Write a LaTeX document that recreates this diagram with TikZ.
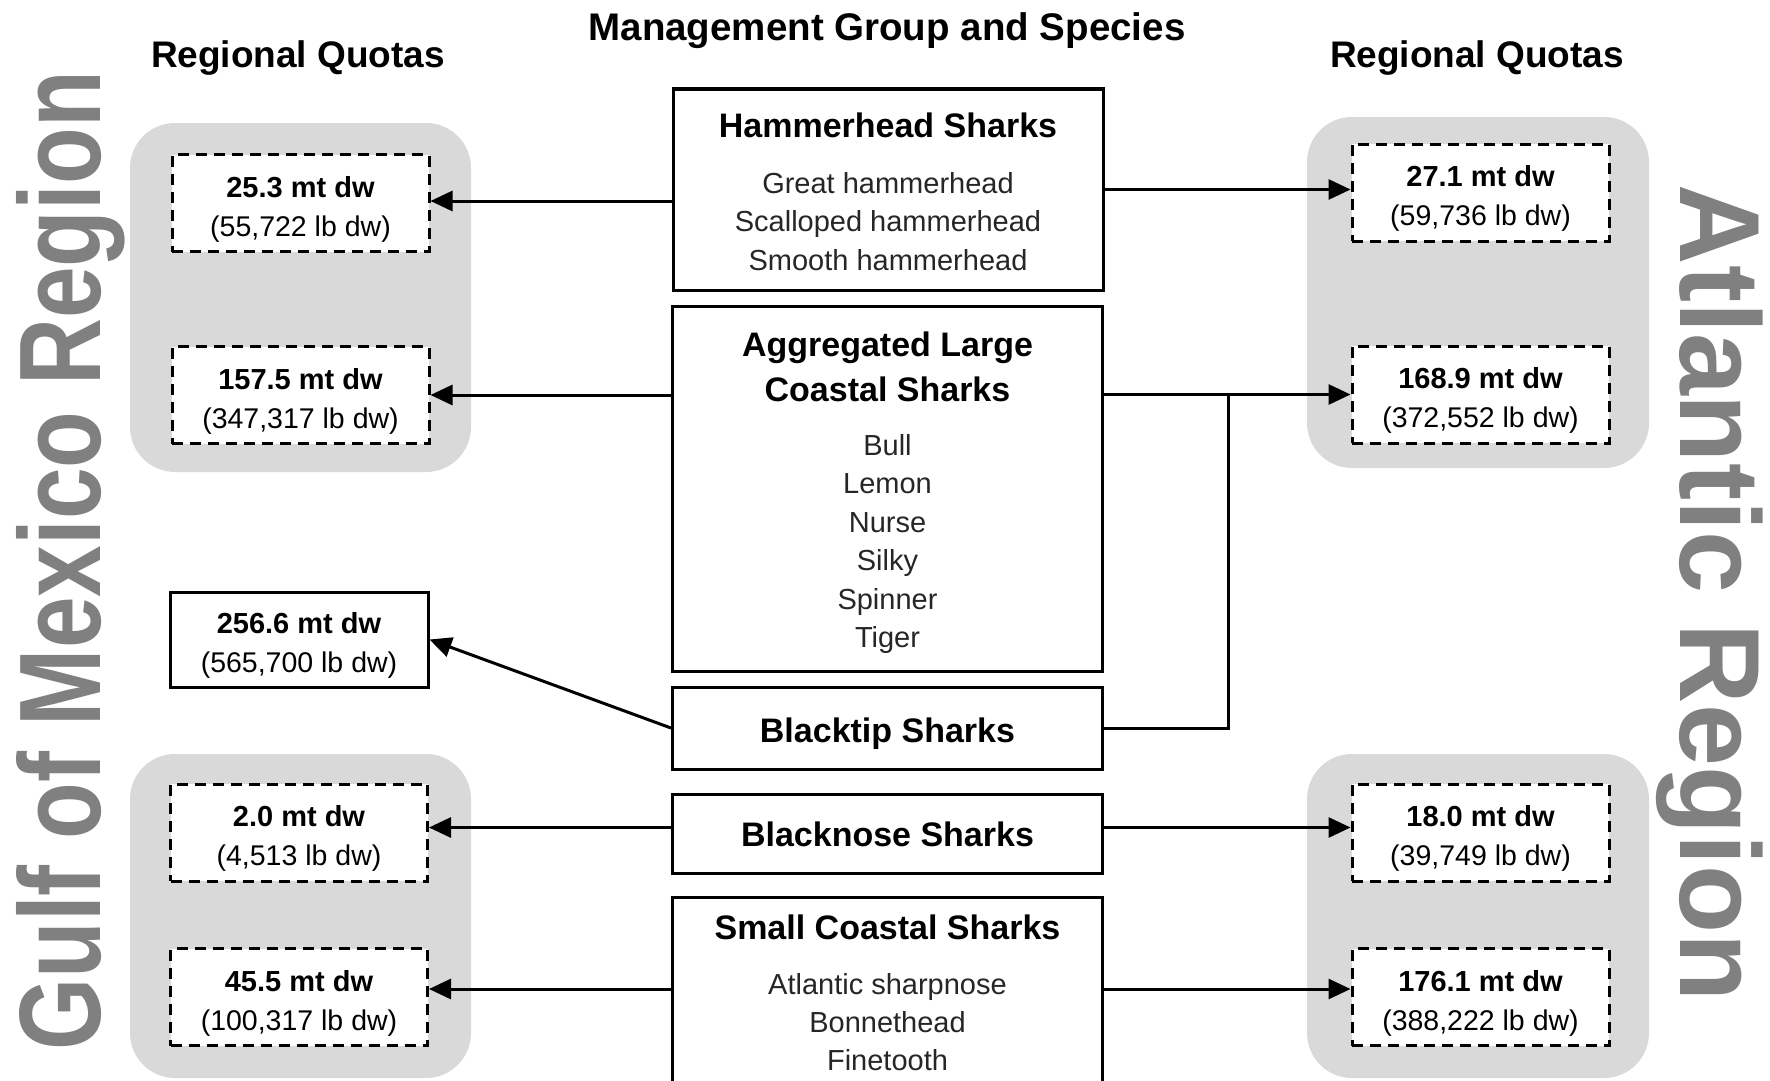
\documentclass[tikz,border=0pt]{standalone}
\usepackage{fontspec}
\setmainfont{Liberation Sans}
\usetikzlibrary{arrows.meta}
\definecolor{regiongray}{HTML}{D9D9D9}
\definecolor{bigGray}{HTML}{808080}
\newcommand{\qtext}[2]{{\fontsize{29}{39}\selectfont\bfseries\rule{0pt}{33pt}#1}\\{\fontsize{28.5}{39}\selectfont #2}}
\tikzset{
  grp/.style={draw, line width=3pt, minimum width=430pt, inner sep=0pt, fill=white},
  qbox/.style={draw, dash pattern=on 11pt off 7pt, line width=3pt, fill=white,
    minimum width=257pt, minimum height=97pt, align=center, inner sep=0pt,
    font=\fontsize{29}{39}\selectfont},
  qsolid/.style={draw, line width=3pt, fill=white, minimum width=258pt,
    minimum height=95pt, align=center, inner sep=0pt, font=\fontsize{29}{39}\selectfont},
  region/.style={fill=regiongray, rounded corners=45pt},
  arr/.style={line width=3pt, -{Triangle[length=22pt,width=20pt]}},
  conn/.style={line width=3pt},
  head/.style={font=\fontsize{37}{40}\selectfont\bfseries, anchor=base, inner sep=0pt},
  gtitle/.style={font=\fontsize{34}{45}\selectfont\bfseries, anchor=base, inner sep=0pt, align=center},
  species/.style={font=\fontsize{29}{38.5}\selectfont, text=black!85, align=center, inner sep=0pt, anchor=north},
  big/.style={text=bigGray, inner sep=0pt, anchor=base},
}
\begin{document}
\begin{tikzpicture}[x=1pt,y=-1pt]
\useasboundingbox[fill=white] (0,0) rectangle (1770,1081);

% region backgrounds
\fill[region] (130,123) rectangle (471,472);
\fill[region] (130,754) rectangle (471,1078);
\fill[region] (1307,117) rectangle (1649,468);
\fill[region] (1307,754) rectangle (1649,1078);

% big region labels
\node[big, rotate=90] (gulf) at (100,561) {\scalebox{0.80}[1]{\fontsize{116}{116}\selectfont\bfseries Gulf of Mexico Region}};
\node[big, rotate=-90] (atl) at (1680,593) {\scalebox{0.977}[1]{\fontsize{114}{114}\selectfont\bfseries Atlantic Region}};

% headers
\node[head, font=\fontsize{38.5}{42}\selectfont\bfseries] (title) at (887,41) {Management Group and Species};
\node[head] (rql) at (298,68) {Regional Quotas};
\node[head] (rqr) at (1477,68) {Regional Quotas};

% management group boxes
\node[grp, minimum height=201pt] (hh) at (888,189.5) {};
\node[grp, minimum height=365pt] (agg) at (887.5,488.5) {};
\node[grp, minimum height=82pt] (bt) at (887.5,728) {};
\node[grp, minimum height=79pt] (bn) at (887.5,833.5) {};
\node[grp, minimum height=203pt] (sc) at (887.5,998.5) {};

% box texts
\node[gtitle] (hhT) at (888,137) {Hammerhead Sharks};
\node[species] (hhS) at (888,172) {Great hammerhead\\Scalloped hammerhead\\Smooth hammerhead};
\node[gtitle, anchor=north] (aggT) at (887.5,332) {Aggregated Large\\Coastal Sharks};
\node[species] (aggS) at (887.5,434) {Bull\\Lemon\\Nurse\\Silky\\Spinner\\Tiger};
\node[gtitle] (btT) at (887.5,742) {Blacktip Sharks};
\node[gtitle] (bnT) at (887.5,846) {Blacknose Sharks};
\node[gtitle] (scT) at (887.5,939) {Small Coastal Sharks};
\node[species, font=\fontsize{29}{38}\selectfont] (scS) at (887.5,973) {Atlantic sharpnose\\Bonnethead\\Finetooth};

% quota boxes
\node[qbox] (q1l) at (300.5,203) {\qtext{25.3 mt dw}{(55,722 lb dw)}};
\node[qbox] (q2l) at (300.5,395) {\qtext{157.5 mt dw}{(347,317 lb dw)}};
\node[qsolid] (gt) at (299,639.5) {\qtext{256.6 mt dw}{(565,700 lb dw)}};
\node[qbox] (q3l) at (299,832.5) {\qtext{2.0 mt dw}{(4,513 lb dw)}};
\node[qbox] (q4l) at (299,997) {\qtext{45.5 mt dw}{(100,317 lb dw)}};
\node[qbox] (q1r) at (1480.5,192.5) {\qtext{27.1 mt dw}{(59,736 lb dw)}};
\node[qbox] (q2r) at (1480.5,394.5) {\qtext{168.9 mt dw}{(372,552 lb dw)}};
\node[qbox] (q3r) at (1480.5,832.5) {\qtext{18.0 mt dw}{(39,749 lb dw)}};
\node[qbox] (q4r) at (1480.5,997) {\qtext{176.1 mt dw}{(388,222 lb dw)}};

% connectors
\draw[arr] ([yshift=2pt]hh.west |- q1l.east) -- ([yshift=2pt]q1l.east);
\draw[arr] (hh.east) -- (hh.east -| q1r.west);
\draw[arr] (agg.west |- q2l.east) -- (q2l.east);
\draw[arr] (agg.east |- q2r.west) -- (q2r.west);
\coordinate (jn) at (1228,394.5);
\draw[conn] (bt.east) -| (jn);
\draw[arr] (bt.west) -- (gt.east);
\draw[arr] ([yshift=5pt]bn.west |- q3l.east) -- ([yshift=5pt]q3l.east);
\draw[arr] ([yshift=5pt]bn.east |- q3r.west) -- ([yshift=5pt]q3r.west);
\draw[arr] ([yshift=8pt]sc.west |- q4l.east) -- ([yshift=8pt]q4l.east);
\draw[arr] ([yshift=8pt]sc.east |- q4r.west) -- ([yshift=8pt]q4r.west);
\end{tikzpicture}
\end{document}
